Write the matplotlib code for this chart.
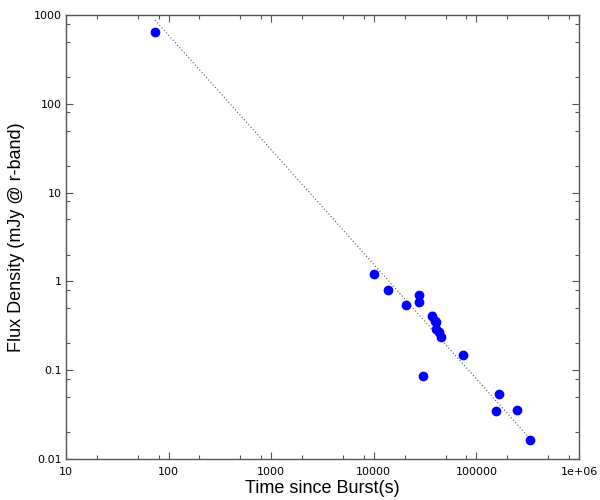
import numpy as np
import matplotlib
matplotlib.use("Agg")
import matplotlib.pyplot as plt
from matplotlib.ticker import LogLocator, FixedFormatter, NullFormatter

# 观测数据 (时间 s, 流量 mJy)
time_s = [73.7, 10100, 13700, 20500, 27600, 27800, 36700, 39700, 40300,
          40600, 43200, 44800, 74000, 30200, 165000, 154000, 251000, 335000]
flux_mjy = [650, 1.2, 0.80, 0.54, 0.71, 0.59, 0.41, 0.358, 0.35,
            0.29, 0.27, 0.234, 0.148, 0.085, 0.054, 0.035, 0.036, 0.0163]
flux_err = [0, 0, 0, 0.04, 0, 0, 0.04, 0.03, 0.03,
            0.02, 0.02, 0.015, 0, 0, 0, 0, 0, 0]

# 幂律拟合 F = norm * t^-index
fit_norm = 2.25e5
fit_index = 1.29

x_ticks = [10, 100, 1000, 10000, 100000, 1000000]
x_tick_labels = ["10", "100", "1000", "10000", "100000", "1e+06"]
y_ticks = [0.01, 0.1, 1, 10, 100, 1000]
y_tick_labels = ["0.01", "0.1", "1", "10", "100", "1000"]

fig = plt.figure(figsize=(6, 5), dpi=100)
ax = fig.add_axes([0.11, 0.082, 0.855, 0.888])

t_fit = np.logspace(np.log10(min(time_s)), np.log10(max(time_s)), 200)
ax.plot(t_fit, fit_norm * t_fit ** -fit_index, color="#555555",
        linestyle=(0, (1, 2)), linewidth=0.8)

ax.errorbar(time_s, flux_mjy, yerr=flux_err, fmt="none", ecolor="#8888ff",
            elinewidth=0.8, capsize=2)
ax.plot(time_s, flux_mjy, "o", color="#0000ff", markersize=6)

ax.set_xscale("log")
ax.set_yscale("log")
ax.set_xlim(10, 1e6)
ax.set_ylim(0.01, 1000)

ax.set_xticks(x_ticks)
ax.xaxis.set_major_formatter(FixedFormatter(x_tick_labels))
ax.set_yticks(y_ticks)
ax.yaxis.set_major_formatter(FixedFormatter(y_tick_labels))
ax.xaxis.set_minor_locator(LogLocator(base=10, subs=[2, 5, 8]))
ax.yaxis.set_minor_locator(LogLocator(base=10, subs=[2, 5, 8]))
ax.xaxis.set_minor_formatter(NullFormatter())
ax.yaxis.set_minor_formatter(NullFormatter())

ax.tick_params(which="both", direction="in", top=True, right=True,
               colors="#555555", labelcolor="black", labelsize=8, width=0.8)
ax.tick_params(which="major", length=5)
ax.tick_params(which="minor", length=3)
ax.tick_params(axis="x", which="major", pad=6)
ax.tick_params(axis="y", which="major", pad=3)
for s in ax.spines.values():
    s.set_color("#555555")
    s.set_linewidth(1)

ax.set_xlabel("Time since Burst(s)", fontsize=13, family="Liberation Sans", labelpad=2)
ax.set_ylabel("Flux Density (mJy @ r-band)", fontsize=13, family="Liberation Sans", labelpad=6)

fig.savefig("out.png", dpi=100)
